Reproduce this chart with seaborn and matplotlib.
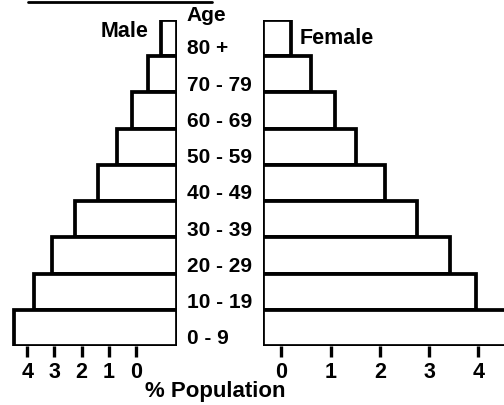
import pandas as pd
import matplotlib.pyplot as plt
import seaborn as sns
from matplotlib.lines import Line2D
from matplotlib.transforms import blended_transform_factory

# Age groups, top of the pyramid first
age_groups = ['80 +', '70 - 79', '60 - 69', '50 - 59', '40 - 49',
              '30 - 39', '20 - 29', '10 - 19', '0 - 9']

# % population per age group (bar lengths)
male_pct = [0.6, 1.06, 1.65, 2.2, 2.9, 3.74, 4.6, 5.25, 6.0]
female_pct = [0.57, 0.97, 1.46, 1.89, 2.48, 3.13, 3.8, 4.33, 5.3]

tick_labels = ['0', '1', '2', '3', '4']

if __name__ == '__main__':

    sns.set_theme(style='white')
    plt.rcParams['font.family'] = ['Liberation Sans', 'DejaVu Sans']
    plt.rcParams['font.weight'] = 'bold'
    plt.rcParams['text.color'] = 'black'

    df_male = pd.DataFrame({'age': age_groups, 'pct': male_pct})
    df_female = pd.DataFrame({'age': age_groups, 'pct': female_pct})

    fig = plt.figure(figsize=(5.04, 4.05), dpi=100)
    ax_m = fig.add_axes([0.0, 0.1457, 0.351, 0.805])
    ax_f = fig.add_axes([0.5218, 0.1457, 0.4782, 0.805])

    bar_kw = dict(color='white', edgecolor='black', linewidth=2.7, width=1.0, orient='h')
    sns.barplot(data=df_male, x='pct', y='age', order=age_groups, ax=ax_m, **bar_kw)
    sns.barplot(data=df_female, x='pct', y='age', order=age_groups, ax=ax_f, **bar_kw)

    # male side grows to the left
    ax_m.set_xlim(6.5, 0)
    ax_f.set_xlim(0, 4.89)

    # tick marks sit a bit off the bar base, as in the printed chart
    male_ticks = [1.5 + k for k in range(5)]
    female_ticks = [0.37 + k for k in range(5)]
    ax_m.set_xticks(male_ticks)
    ax_m.set_xticklabels(tick_labels)
    ax_f.set_xticks(female_ticks)
    ax_f.set_xticklabels(tick_labels)

    for ax in (ax_m, ax_f):
        ax.set_ylim(8.5, -0.5)
        ax.set_xlabel('')
        ax.set_ylabel('')
        ax.set_yticks([])
        for s in ax.spines.values():
            s.set_visible(False)
        ax.tick_params(axis='x', bottom=True, direction='out', length=8, width=2.4,
                       color='black', pad=3.5, labelsize=15.5, labelcolor='black')
        for lab in ax.get_xticklabels():
            lab.set_fontweight('bold')

    # age labels between the two halves
    trans = blended_transform_factory(ax_m.transAxes, ax_m.transData)
    ax_m.text(1.056, -0.62, 'Age', transform=trans, ha='left', va='center',
              fontsize=15, fontweight='bold', clip_on=False)
    for i, age in enumerate(age_groups):
        ax_m.text(1.056, i + 0.3, age, transform=trans, ha='left', va='center',
                  fontsize=15, fontweight='bold', clip_on=False)

    ax_m.text(1.06, -0.17, 'Male', ha='right', va='center', fontsize=15.5, fontweight='bold')
    ax_f.text(0.75, 0.0, 'Female', ha='left', va='center', fontsize=15.5, fontweight='bold')

    fig.text(215 / 504, 1 - 392 / 405, '% Population', ha='center', va='center',
             fontsize=16, fontweight='bold')

    # leftover underline from the page above
    fig.add_artist(Line2D([28 / 504, 212 / 504], [1 - 1.5 / 405] * 2, color='black', lw=2))

    plt.savefig('out.png', dpi=100)
